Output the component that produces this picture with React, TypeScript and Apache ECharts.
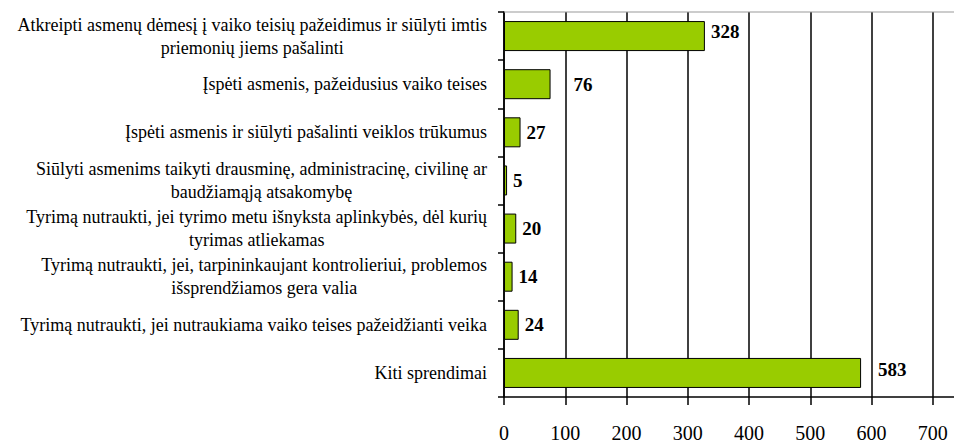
import React, { useEffect, useRef } from "react";
import * as echarts from "echarts";

const categories: string[] = [
  "Atkreipti asmenų dėmesį į vaiko teisių pažeidimus ir siūlyti imtis\npriemonių jiems pašalinti",
  "Įspėti asmenis, pažeidusius vaiko teises",
  "Įspėti asmenis ir siūlyti pašalinti veiklos trūkumus",
  "Siūlyti asmenims taikyti drausminę, administracinę, civilinę ar\nbaudžiamąją atsakomybę",
  "Tyrimą nutraukti, jei tyrimo metu išnyksta aplinkybės, dėl kurių\ntyrimas atliekamas",
  "Tyrimą nutraukti, jei, tarpininkaujant kontrolieriui, problemos\nišsprendžiamos gera valia",
  "Tyrimą nutraukti, jei nutraukiama vaiko teises pažeidžianti veika",
  "Kiti sprendimai",
];

const values: number[] = [328, 76, 27, 5, 20, 14, 24, 583];

const xMin = 0;
const xMax = 800;
const xInterval = 100;

const FONT = "Liberation Serif";

export default function App() {
  const ref = useRef<HTMLDivElement>(null);

  useEffect(() => {
    if (!ref.current) return;
    const chart = echarts.init(ref.current, null, { renderer: "svg" });
    const data = values.map((v, i) => {
      let distance = 6;
      let offset: [number, number] = [0, 0];
      if (i === 0) offset = [0, -5];
      if (i === 1) distance = 23;
      if (i === 7) {
        distance = 17;
        offset = [0, -3];
      }
      return { value: v, label: { distance, offset } };
    });
    chart.setOption({
      animation: false,
      backgroundColor: "#ffffff",
      textStyle: { fontFamily: FONT },
      grid: {
        left: 504,
        top: 12,
        bottom: 47,
        width: 490,
        containLabel: false,
        outerBoundsMode: "none",
      },
      xAxis: {
        type: "value",
        min: xMin,
        max: xMax,
        interval: xInterval,
        axisLine: { show: true, lineStyle: { color: "#000", width: 1.5 } },
        axisTick: { show: true, length: 8, lineStyle: { color: "#000", width: 1.5 } },
        axisLabel: {
          color: "#000",
          fontFamily: FONT,
          fontSize: 20,
          margin: 26,
          showMaxLabel: false,
        },
        splitLine: { show: true, lineStyle: { color: "#000", width: 1.5 } },
      },
      yAxis: {
        type: "category",
        data: categories,
        inverse: true,
        axisLine: { show: true, lineStyle: { color: "#000", width: 1.5 } },
        axisTick: { show: true, length: 6, inside: false, lineStyle: { color: "#000", width: 1.5 } },
        axisLabel: {
          color: "#000",
          fontFamily: FONT,
          fontSize: 18,
          lineHeight: 23,
          margin: 17,
          interval: 0,
          formatter: (s: string) =>
            s
              .split("\n")
              .map((l) => `{c|${l}}`)
              .join("\n"),
          rich: {
            c: {
              align: "center",
              color: "#000",
              fontFamily: FONT,
              fontSize: 18,
              lineHeight: 23,
            },
          },
        },
      },
      graphic: [
        {
          type: "line",
          shape: { x1: 504, y1: 12, x2: 954, y2: 12 },
          style: { stroke: "#999", lineWidth: 1 },
          z: 10,
        },
      ],
      series: [
        {
          type: "bar",
          data,
          barWidth: 30,
          itemStyle: { color: "#99cc00", borderColor: "#000", borderWidth: 1 },
          label: {
            show: true,
            position: "right",
            color: "#000",
            fontFamily: FONT,
            fontSize: 19,
            fontWeight: "bold",
          },
          z: 5,
        },
      ],
    });
    return () => chart.dispose();
  }, []);

  return <div ref={ref} style={{ width: 954, height: 444, position: "absolute", left: 0, top: 0 }} />;
}
